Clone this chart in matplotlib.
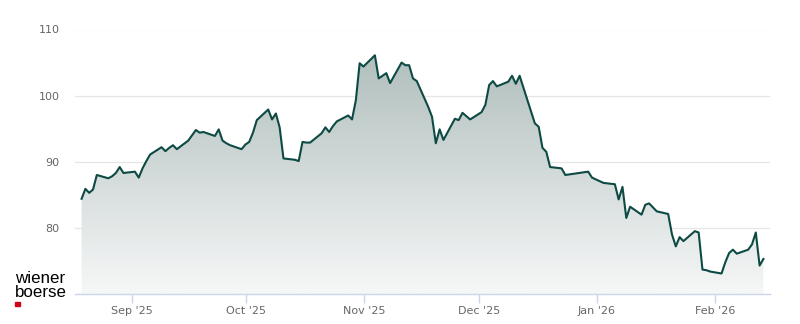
import numpy as np
import pandas as pd
import matplotlib
matplotlib.use("Agg")
import matplotlib.pyplot as plt
import matplotlib.dates as mdates
from matplotlib.colors import LinearSegmentedColormap
from matplotlib.patches import Rectangle

# trading days (closing prices)
days = [
    "2025-08-18", "2025-08-19", "2025-08-20", "2025-08-21", "2025-08-22",
    "2025-08-25", "2025-08-26", "2025-08-27", "2025-08-28", "2025-08-29",
    "2025-09-01", "2025-09-02", "2025-09-03", "2025-09-04", "2025-09-05",
    "2025-09-08", "2025-09-09", "2025-09-10", "2025-09-11", "2025-09-12",
    "2025-09-15", "2025-09-16", "2025-09-17", "2025-09-18", "2025-09-19",
    "2025-09-22", "2025-09-23", "2025-09-24", "2025-09-25", "2025-09-26",
    "2025-09-29", "2025-09-30", "2025-10-01", "2025-10-02", "2025-10-03",
    "2025-10-06", "2025-10-07", "2025-10-08", "2025-10-09", "2025-10-10",
    "2025-10-13", "2025-10-14", "2025-10-15", "2025-10-16", "2025-10-17",
    "2025-10-20", "2025-10-21", "2025-10-22", "2025-10-23", "2025-10-24",
    "2025-10-27", "2025-10-28", "2025-10-29", "2025-10-30", "2025-10-31",
    "2025-11-03", "2025-11-04", "2025-11-05", "2025-11-06", "2025-11-07",
    "2025-11-10", "2025-11-11", "2025-11-12", "2025-11-13", "2025-11-14",
    "2025-11-17", "2025-11-18", "2025-11-19", "2025-11-20", "2025-11-21",
    "2025-11-24", "2025-11-25", "2025-11-26", "2025-11-27", "2025-11-28",
    "2025-12-01", "2025-12-02", "2025-12-03", "2025-12-04", "2025-12-05",
    "2025-12-08", "2025-12-09", "2025-12-10", "2025-12-11", "2025-12-12",
    "2025-12-15", "2025-12-16", "2025-12-17", "2025-12-18", "2025-12-19",
    "2025-12-22", "2025-12-23", "2025-12-29", "2025-12-30",
    "2026-01-02", "2026-01-05", "2026-01-06", "2026-01-07", "2026-01-08",
    "2026-01-09", "2026-01-12", "2026-01-13", "2026-01-14", "2026-01-15",
    "2026-01-16", "2026-01-19", "2026-01-20", "2026-01-21", "2026-01-22",
    "2026-01-23", "2026-01-26", "2026-01-27", "2026-01-28", "2026-01-29",
    "2026-01-30", "2026-02-02", "2026-02-03", "2026-02-04", "2026-02-05",
    "2026-02-06", "2026-02-09", "2026-02-10", "2026-02-11", "2026-02-12",
    "2026-02-13",
]
prices = [
    84.4, 85.9, 85.3, 85.8, 88.0,
    87.5, 87.8, 88.3, 89.2, 88.3,
    88.5, 87.6, 89.0, 90.1, 91.1,
    92.2, 91.6, 92.1, 92.5, 91.9,
    93.2, 94.0, 94.8, 94.4, 94.5,
    93.9, 94.9, 93.2, 92.8, 92.5,
    91.9, 92.6, 93.0, 94.4, 96.3,
    97.9, 96.4, 97.3, 95.2, 90.5,
    90.3, 90.1, 93.0, 92.9, 92.9,
    94.3, 95.2, 94.5, 95.4, 96.1,
    97.0, 96.4, 99.3, 104.9, 104.4,
    106.1, 102.6, 103.0, 103.4, 101.9,
    105.0, 104.6, 104.6, 102.6, 102.2,
    98.3, 96.8, 92.8, 94.9, 93.3,
    96.5, 96.3, 97.4, 96.9, 96.4,
    97.5, 98.6, 101.6, 102.2, 101.4,
    102.1, 103.0, 101.8, 103.0, 101.2,
    95.8, 95.3, 92.1, 91.5, 89.2,
    89.0, 88.0, 88.5, 87.6,
    86.8, 86.6, 84.3, 86.2, 81.5,
    83.2, 82.0, 83.5, 83.7, 83.1,
    82.5, 82.1, 79.0, 77.2, 78.6,
    78.0, 79.5, 79.3, 73.7, 73.6,
    73.4, 73.1, 74.8, 76.2, 76.7,
    76.1, 76.7, 77.5, 79.3, 74.3,
    75.3,
]
month_ticks = ["2025-09-01", "2025-10-01", "2025-11-01", "2025-12-01", "2026-01-01", "2026-02-01"]
y_ticks = [80, 90, 100, 110]

x = pd.to_datetime(days) + pd.Timedelta(hours=17, minutes=30)
y = np.array(prices)

fig = plt.figure(figsize=(8, 3.24), dpi=100)
ax = fig.add_axes([75 / 800, 1 - 294 / 324, 695 / 800, (294 - 29.5) / 324])

ymin, ymax = 70, 110
xlo = mdates.date2num(pd.Timestamp("2025-08-17 00:00"))
xhi = mdates.date2num(pd.Timestamp("2026-02-15 11:00"))

# gradient area under the line
fill = ax.fill_between(x, y, ymin, facecolor="none", edgecolor="none")
cmap = LinearSegmentedColormap.from_list("g", ["#a9b9b7", "#f6f7f7"])
grad = np.linspace(0, 1, 256).reshape(-1, 1)
img = ax.imshow(grad, cmap=cmap, aspect="auto", extent=[xlo, xhi, ymin, ymax],
                origin="upper", zorder=1)
img.set_clip_path(fill.get_paths()[0], transform=ax.transData)

ax.plot(x, y, color="#0d4a43", lw=1.5, zorder=3, solid_joinstyle="round")

ax.set_xlim(xlo, xhi)
ax.set_ylim(ymin, ymax)
ax.set_yticks(y_ticks)
ax.set_xticks(pd.to_datetime(month_ticks))
ax.xaxis.set_major_formatter(mdates.DateFormatter("%b '%y"))

ax.grid(axis="y", color="#e6e6e6", lw=0.9, zorder=0)
ax.set_axisbelow(True)
for s in ["top", "right", "left"]:
    ax.spines[s].set_visible(False)
ax.spines["bottom"].set_color("#ccd6eb")
ax.spines["bottom"].set_linewidth(1)
ax.tick_params(axis="x", colors="#ccd6eb", length=6.5, width=1, labelcolor="#666666",
               labelsize=8, pad=2)
ax.tick_params(axis="y", length=0, labelcolor="#666666", labelsize=8, pad=11)

# logo
fig.text(15 / 800, 1 - 283 / 324, "wiener", fontsize=12.2, family="Liberation Sans",
         color="#000000", va="baseline", ha="left")
fig.text(15 / 800, 1 - 297 / 324, "boerse", fontsize=12.2, family="Liberation Sans",
         color="#000000", va="baseline", ha="left")
fig.add_artist(Rectangle((15 / 800, 1 - 306 / 324), 4.5 / 800, 4.5 / 324,
                         transform=fig.transFigure, color="#d0021b"))

fig.savefig("out.png", dpi=100)
